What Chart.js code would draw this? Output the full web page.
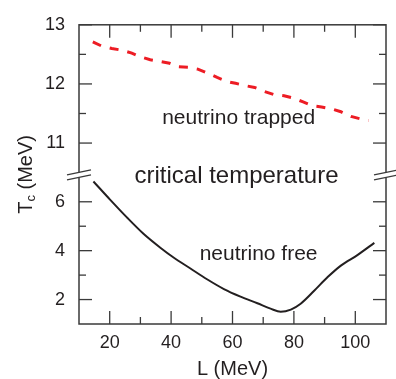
<!DOCTYPE html>
<html>
<head>
<meta charset="utf-8">
<script src="https://cdn.jsdelivr.net/npm/chart.js@4.4.1/dist/chart.umd.min.js"></script>
<style>
  html, body { margin: 0; padding: 0; background: #fff; }
</style>
</head>
<body>
<canvas id="grafico" width="396" height="379"></canvas>
<script>
// valores
const xTicks    = [20, 40, 60, 80, 100];
const xMinor    = [30, 50, 70, 90];
const yTopTicks = [11, 12, 13];
const yTopMinor = [11.5, 12.5];
const yBotTicks = [2, 4, 6];
const yBotMinor = [3, 5];

// neutrino trapped (discontinua roja, eje superior)
const trappedL = [14.5, 17.4, 20.7, 24.0, 27.2, 29.9, 33.2, 36.3, 39.5, 42.5, 45.7, 48.7, 52.0, 55.0, 58.3,
                  61.0, 64.3, 67.2, 70.5, 73.5, 76.8, 79.8, 82.8, 86.1, 89.0, 92.1, 95.3, 98.6, 101.6, 104.3];
const trappedT = [12.71, 12.64, 12.60, 12.57, 12.52, 12.46, 12.41, 12.38, 12.35, 12.29, 12.28, 12.25, 12.18, 12.11, 12.04,
                  12.01, 11.97, 11.94, 11.87, 11.82, 11.80, 11.76, 11.70, 11.63, 11.61, 11.58, 11.53, 11.45, 11.41, 11.38];

// neutrino free (continua negra, eje inferior)
const freeL = [14.7, 20.1, 25.6, 31.0, 36.5, 40.8, 46.3, 51.7, 57.2, 62.6, 68.1, 72.4, 75.7, 79.0, 82.2, 86.6, 91.0, 95.3, 100.8, 106.2];
const freeT = [6.83, 6.09, 5.36, 4.69, 4.12, 3.72, 3.27, 2.83, 2.43, 2.12, 1.85, 1.63, 1.50, 1.59, 1.83, 2.36, 2.92, 3.39, 3.83, 4.32];

// textos dentro del gráfico (en coordenadas de datos)
const notas = [
  { text: 'neutrino trapped',     L: 62.0, T: 11.42, eje: 'yTop', size: 21 },
  { text: 'critical temperature', L: 61.3, T: 7.04,  eje: 'yBot', size: 24 },
  { text: 'neutrino free',        L: 68.5, T: 3.84,  eje: 'yBot', size: 21 }
];

const FAM   = '"Liberation Sans", Arial, Helvetica, sans-serif';
const TINTA = '#231f20';
const MARCO = '#3a3a3a';

const pares = (xs, ys) => xs.map((x, i) => ({ x, y: ys[i] }));
const fijar = arr => s => { s.ticks = arr.map(v => ({ value: v })); };

// ───────────────────────── marco, marcas interiores, cortes y textos
const extras = {
  id: 'extras',
  afterDraw (chart) {
    const { ctx, chartArea: a, scales } = chart;
    const sx = scales.x, yT = scales.yTop, yB = scales.yBot;
    ctx.save();

    // marco
    ctx.strokeStyle = MARCO;
    ctx.lineWidth = 1.5;
    ctx.strokeRect(a.left, a.top, a.right - a.left, a.bottom - a.top);

    // marcas
    ctx.lineWidth = 1.3;
    const linea = (x1, y1, x2, y2) => { ctx.beginPath(); ctx.moveTo(x1, y1); ctx.lineTo(x2, y2); ctx.stroke(); };
    const marcasX = (vals, len) => vals.forEach(v => {
      const px = sx.getPixelForValue(v);
      linea(px, a.bottom, px, a.bottom - len);
      linea(px, a.top, px, a.top + len);
    });
    const marcasY = (sc, vals, len) => vals.forEach(v => {
      const py = sc.getPixelForValue(v);
      linea(a.left, py, a.left + len, py);
      linea(a.right, py, a.right - len, py);
    });
    marcasX(xTicks, 13); marcasX(xMinor, 7);
    marcasY(yT, yTopTicks, 13); marcasY(yT, yTopMinor, 7);
    marcasY(yB, yBotTicks, 13); marcasY(yB, yBotMinor, 7);

    // cortes del eje
    const yc = yT.bottom;
    [a.left, a.right].forEach(x => {
      ctx.fillStyle = '#fff';
      ctx.beginPath();
      ctx.moveTo(x - 12, yc + 0.5); ctx.lineTo(x + 12, yc - 4.5);
      ctx.lineTo(x + 12, yc + 0.5); ctx.lineTo(x - 12, yc + 5.5);
      ctx.closePath(); ctx.fill();
      ctx.strokeStyle = MARCO;
      ctx.lineWidth = 1.3;
      linea(x - 12, yc + 0.5, x + 12, yc - 4.5);
      linea(x - 12, yc + 5.5, x + 12, yc + 0.5);
    });

    // textos
    ctx.fillStyle = TINTA;
    ctx.textAlign = 'center';
    ctx.textBaseline = 'middle';
    notas.forEach(n => {
      ctx.font = `${n.size}px ${FAM}`;
      ctx.fillText(n.text, sx.getPixelForValue(n.L), scales[n.eje].getPixelForValue(n.T));
    });

    // título del eje y con subíndice
    ctx.translate(a.left - 53, (a.top + a.bottom) / 2);
    ctx.rotate(-Math.PI / 2);
    ctx.textAlign = 'left';
    const fG = `20px ${FAM}`, fS = `13px ${FAM}`;
    ctx.font = fG; const wT = ctx.measureText('T').width, wR = ctx.measureText(' (MeV)').width;
    ctx.font = fS; const wC = ctx.measureText('c').width;
    let x0 = -(wT + wC + wR) / 2;
    ctx.font = fG; ctx.fillText('T', x0, 0); x0 += wT;
    ctx.font = fS; ctx.fillText('c', x0, 5); x0 += wC;
    ctx.font = fG; ctx.fillText(' (MeV)', x0, 0);

    ctx.restore();
  }
};

const ejeY = (min, max, ticks) => ({
  type: 'linear', position: 'left', stack: 'y', stackWeight: 1,
  min, max,
  afterBuildTicks: fijar(ticks),
  afterFit: s => { s.width = 79; },
  grid: { display: false, drawTicks: false },
  border: { display: false },
  ticks: { padding: 14, color: TINTA, font: { family: FAM, size: 18 } }
});

const ctx = document.getElementById('grafico').getContext('2d');
new Chart(ctx, {
  type: 'line',
  data: {
    datasets: [
      {
        label: 'neutrino trapped', data: pares(trappedL, trappedT), yAxisID: 'yTop',
        borderColor: '#ed1c24', borderWidth: 3, borderDash: [9, 9], borderCapStyle: 'butt',
        pointRadius: 0, tension: 0, fill: false
      },
      {
        label: 'neutrino free', data: pares(freeL, freeT), yAxisID: 'yBot',
        borderColor: TINTA, borderWidth: 2, pointRadius: 0,
        cubicInterpolationMode: 'monotone', fill: false
      }
    ]
  },
  options: {
    responsive: false,
    devicePixelRatio: 1,
    animation: false,
    layout: { padding: { left: 0, right: 10, top: 18, bottom: 0 } },
    plugins: { legend: { display: false }, tooltip: { enabled: false } },
    scales: {
      x: {
        type: 'linear', position: 'bottom', min: 10, max: 110,
        afterBuildTicks: fijar(xTicks),
        afterFit: s => { s.height = 55; },
        grid: { display: false, drawTicks: false },
        border: { display: false },
        ticks: { padding: 8, color: TINTA, font: { family: FAM, size: 18 } },
        title: { display: true, text: 'L (MeV)', color: TINTA, padding: 0,
                 font: { family: FAM, size: 20, lineHeight: 1 } }
      },
      yBot: ejeY(1, 7.12, yBotTicks),
      yTop: ejeY(10.47, 13, yTopTicks)
    }
  },
  plugins: [extras]
});
</script>
</body>
</html>
